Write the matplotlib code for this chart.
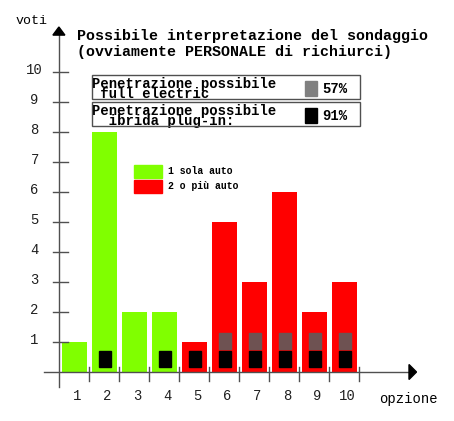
import matplotlib
matplotlib.use("Agg")
import matplotlib.pyplot as plt
from matplotlib.patches import Rectangle, Polygon

# dati
opzioni = [1, 2, 3, 4, 5, 6, 7, 8, 9, 10]
voti = [1, 8, 2, 2, 1, 5, 3, 6, 2, 3]
gruppo = ["1", "1", "1", "1", "2", "2", "2", "2", "2", "2"]
plugin = [2, 4, 5, 6, 7, 8, 9, 10]        # opzioni con quadratino nero
full_el = [6, 7, 8, 9, 10]                 # opzioni con quadratino grigio
y_ticks = [1, 2, 3, 4, 5, 6, 7, 8, 9, 10]
perc_full = "57%"
perc_plugin = "91%"

VERDE = "#80ff00"
ROSSO = "#ff0000"
ASSE = "#505050"
MONO = "Liberation Mono"

fig = plt.figure(figsize=(4.54, 4.21), dpi=100)
ax = fig.add_axes([0, 0, 1, 1])
# 1 unita = 30 px
ax.set_xlim(-44.5 / 30, (454 - 44.5) / 30)
ax.set_ylim(-(421 - 372) / 30, 372 / 30)
ax.axis("off")

# barre
for x, v, g in zip(opzioni, voti, gruppo):
    ax.bar(x, v, width=25 / 30, color=VERDE if g == "1" else ROSSO, zorder=2)
for x in plugin:
    ax.add_patch(Rectangle((x - 0.2, 0.17), 0.43, 0.53, color="black", zorder=3))
for x in full_el:
    ax.add_patch(Rectangle((x - 0.2, 0.77), 0.43, 0.54, color="#6e5252", zorder=3))

# assi
ax.plot([0.48, 0.48], [-0.5, 11.3], color=ASSE, lw=1.0, zorder=4)
ax.add_patch(Polygon([[0.28, 11.23], [0.68, 11.23], [0.48, 11.5]], color="black", zorder=5))
ax.plot([-0.02, 12.2], [0, 0], color=ASSE, lw=1.0, zorder=4)
ax.add_patch(Polygon([[12.15, 0.25], [12.15, -0.25], [12.4, 0]], color="black", zorder=5))

for t in y_ticks:
    ax.plot([0.28, 0.78], [t, t], color=ASSE, lw=1.0, zorder=4)
    ax.text(-0.33, t + 0.05, str(t), ha="center", va="center", fontsize=10,
            family=MONO, color="#202020")
for x in opzioni:
    ax.plot([x + 0.49, x + 0.49], [0.17, -0.3], color=ASSE, lw=1.0, zorder=4)
    ax.text(x + 0.1, -0.8, str(x), ha="center", va="center", fontsize=10,
            family=MONO, color="#202020")

ax.text(-0.95, 11.7, "voti", ha="left", va="center", fontsize=9.5, family=MONO)
ax.text(11.15, -0.9, "opzione", ha="left", va="center", fontsize=10, family=MONO)

# titolo
ax.text(1.08, 11.2, "Possibile interpretazione del sondaggio", ha="left", va="center",
        fontsize=10.8, family=MONO, weight="bold")
ax.text(1.08, 10.68, "(ovviamente PERSONALE di richiurci)", ha="left", va="center",
        fontsize=10.8, family=MONO, weight="bold")

# riquadri penetrazione
for y0, righe, col, perc in [
        (9.1, "Penetrazione possibile\n full electric", "#808080", perc_full),
        (8.2, "Penetrazione possibile\n  ibrida plug-in:", "black", perc_plugin)]:
    ax.add_patch(Rectangle((1.58, y0), 8.93, 0.8, fill=False, edgecolor=ASSE, lw=1.0, zorder=4))
    ax.text(1.6, y0 + 0.335, righe, ha="left", va="center", fontsize=10.0, family=MONO,
            weight="bold", linespacing=0.7)
    ax.add_patch(Rectangle((8.68, y0 + 0.1), 0.4, 0.5, color=col, zorder=4))
    ax.text(9.27, y0 + 0.33, perc, ha="left", va="center", fontsize=10, family=MONO, weight="bold")

# legenda
ax.add_patch(Rectangle((2.98, 6.47), 0.93, 0.43, color=VERDE))
ax.add_patch(Rectangle((2.98, 5.97), 0.93, 0.43, color=ROSSO))
ax.text(4.1, 6.7, "1 sola auto", ha="left", va="center", fontsize=7, family=MONO, weight="bold")
ax.text(4.1, 6.2, "2 o più auto", ha="left", va="center", fontsize=7, family=MONO, weight="bold")

fig.savefig("out.png", dpi=100, facecolor="white")
